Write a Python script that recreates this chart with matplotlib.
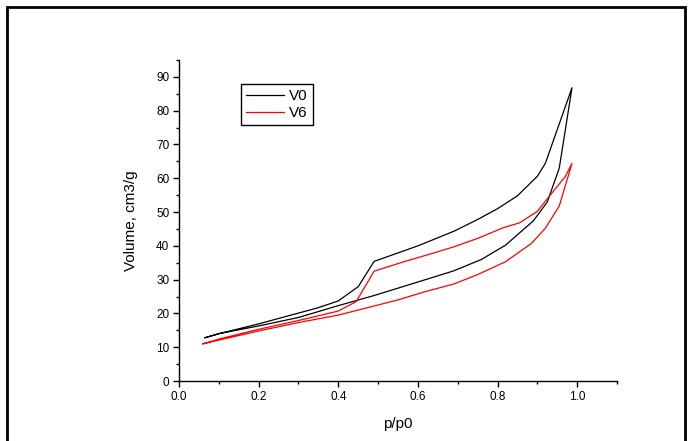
import matplotlib.pyplot as plt
from matplotlib.patches import Rectangle
from matplotlib.ticker import MultipleLocator

plt.rcParams['font.family'] = ['Liberation Sans', 'DejaVu Sans']

# V0: adsorption branch then desorption branch
v0_ads_x = [0.065, 0.10, 0.20, 0.30, 0.40, 0.49, 0.60, 0.69, 0.76, 0.82, 0.89, 0.925, 0.955, 0.987]
v0_ads_y = [12.8, 14.0, 16.3, 18.8, 22.3, 25.3, 29.3, 32.6, 36.0, 40.2, 47.4, 53.0, 63.0, 86.8]
v0_des_x = [0.987, 0.92, 0.90, 0.85, 0.80, 0.75, 0.69, 0.60, 0.49, 0.45, 0.40, 0.35, 0.20, 0.10, 0.065]
v0_des_y = [86.8, 64.4, 60.6, 54.8, 51.0, 47.8, 44.3, 40.0, 35.4, 27.9, 23.7, 21.7, 16.9, 14.0, 12.8]

# V6
v6_ads_x = [0.06, 0.10, 0.20, 0.30, 0.40, 0.48, 0.55, 0.62, 0.69, 0.75, 0.82, 0.885, 0.92, 0.955, 0.987]
v6_ads_y = [11.0, 12.1, 14.8, 17.3, 19.5, 21.9, 24.0, 26.5, 28.7, 31.5, 35.3, 40.7, 45.2, 51.8, 64.4]
v6_des_x = [0.987, 0.97, 0.92, 0.90, 0.855, 0.815, 0.75, 0.69, 0.62, 0.565, 0.49, 0.445, 0.40, 0.30, 0.20, 0.10, 0.06]
v6_des_y = [64.4, 60.5, 53.2, 50.2, 46.8, 45.4, 42.2, 39.7, 37.2, 35.3, 32.5, 23.5, 20.7, 17.9, 15.3, 12.4, 11.0]

fig = plt.figure(figsize=(6.88, 4.41), dpi=100)
# outer frame like the exported Origin page
fig.patches.append(Rectangle((7 / 688, -0.02), 678 / 688, 1 - 7 / 441 + 0.02,
                             transform=fig.transFigure, fill=False,
                             edgecolor='black', linewidth=2))

ax = fig.add_axes([179 / 688, 1 - 381 / 441, 438 / 688, 321 / 441])
ax.plot(v0_ads_x + v0_des_x, v0_ads_y + v0_des_y, color='black', lw=0.9, label='V0')
ax.plot(v6_ads_x + v6_des_x, v6_ads_y + v6_des_y, color='red', lw=0.9, label='V6')

ax.set_xlim(0, 1.1)
ax.set_ylim(0, 95)
ax.xaxis.set_major_locator(MultipleLocator(0.2))
ax.xaxis.set_minor_locator(MultipleLocator(0.1))
ax.yaxis.set_major_locator(MultipleLocator(10))
ax.yaxis.set_minor_locator(MultipleLocator(5))
ax.set_xticks([0.0, 0.2, 0.4, 0.6, 0.8, 1.0])
ax.set_xticklabels(['0.0', '0.2', '0.4', '0.6', '0.8', '1.0'])

for s in ['top', 'right']:
    ax.spines[s].set_visible(False)
for s in ['left', 'bottom']:
    ax.spines[s].set_linewidth(1.0)

ax.tick_params(which='major', direction='out', length=4, width=1, labelsize=8.5, pad=3)
ax.tick_params(which='minor', direction='out', length=2.5, width=1)

ax.set_xlabel('p/p0', fontsize=11, labelpad=10)
ax.set_ylabel('Volume, cm3/g', fontsize=11, labelpad=13)

leg = ax.legend(loc='upper left', bbox_to_anchor=(0.123, 0.95), fontsize=11,
                handlelength=2.5, handletextpad=0.3, borderpad=0.35,
                labelspacing=0.2, fancybox=False, framealpha=1)
leg.get_frame().set_edgecolor('black')
leg.get_frame().set_linewidth(1.0)

fig.savefig('out.png', dpi=100)
